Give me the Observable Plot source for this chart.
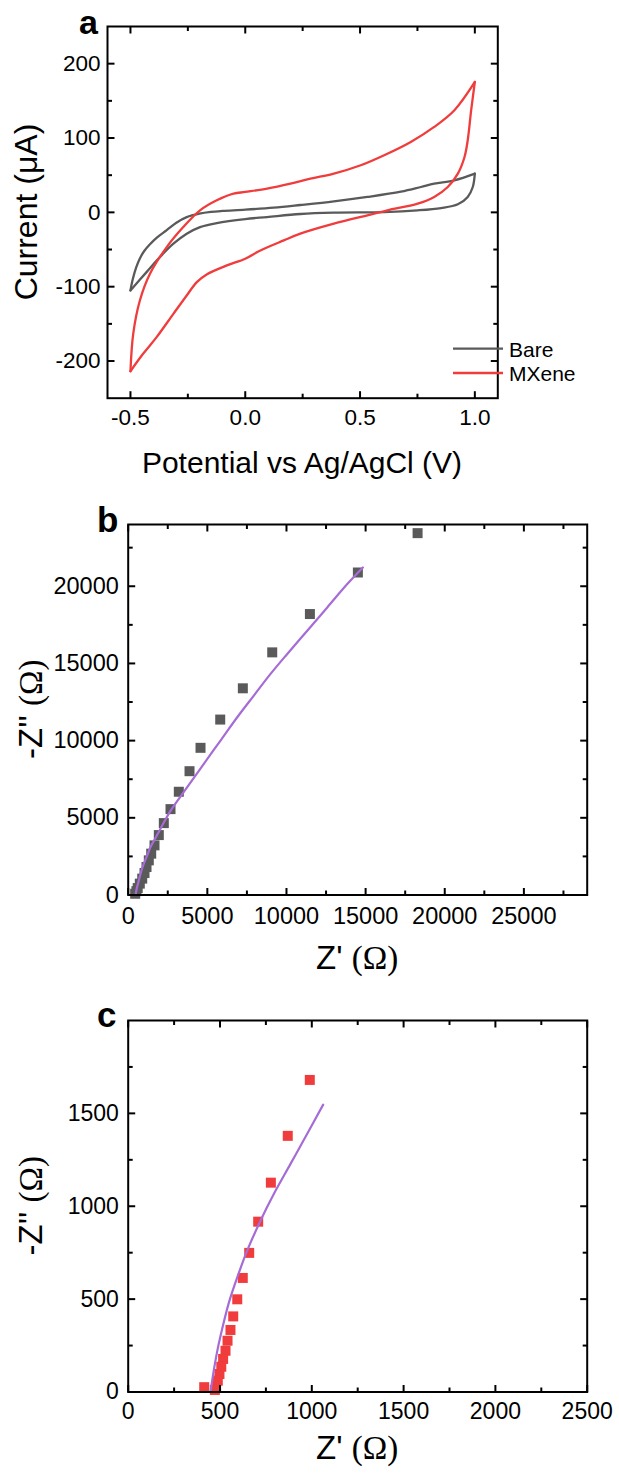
<!DOCTYPE html>
<html><head><meta charset="utf-8">
<script src="https://cdn.jsdelivr.net/npm/d3@7"></script>
<script src="https://cdn.jsdelivr.net/npm/@observablehq/plot@0.6"></script>
<style>
body{margin:0;background:#fff;}
#wrap{width:619px;position:relative;}
#wrap svg{display:block;}
</style></head><body><div id="wrap"></div>
<script>
// ---------- Panel a: cyclic voltammetry ----------
const bareFwdV = [-0.5,-0.49,-0.475,-0.459,-0.44,-0.415,-0.385,-0.342,-0.30,-0.255,-0.2,-0.15,-0.1,0,0.124,0.240,0.386,0.532,0.678,0.765,0.823,0.911,1.0];
const bareFwdI = [-105,-90,-74,-62,-52,-43,-34,-24,-14,-6.5,-1.8,0.6,1.9,3.6,6.3,9.9,14.8,20.7,27.8,34.1,38.6,43.1,52.1];
const bareRevV = [1.0,0.991,0.969,0.926,0.853,0.751,0.605,0.386,0.240,0.095,0,-0.124,-0.197,-0.255,-0.313,-0.372,-0.430,-0.5];
const bareRevI = [52.1,34.1,20.7,10.8,5.8,2.7,0.4,-0.4,-2.2,-6.3,-9.0,-14.4,-19.8,-28.7,-42.2,-60.2,-80.4,-105];
const mxFwdV = [-0.5,-0.488,-0.459,-0.415,-0.342,-0.270,-0.197,-0.124,-0.051,0,0.095,0.197,0.284,0.386,0.503,0.605,0.721,0.823,0.911,1.0];
const mxFwdI = [-213.7,-163.4,-118.5,-82.6,-46.7,-19.8,2.7,16.2,25.1,27.4,31.9,38.6,45.3,52.1,63.3,76.8,94.7,114.9,137.4,175.5];
const mxRevV = [1.0,0.984,0.969,0.955,0.926,0.882,0.823,0.751,0.619,0.532,0.386,0.240,0.168,0.066,0,-0.080,-0.168,-0.211,-0.255,-0.313,-0.386,-0.445,-0.5];
const mxRevI = [175.5,137.4,97,74.5,52.1,34.1,20.7,11.7,2.7,-4.0,-15.3,-28.7,-37.7,-51.2,-62.4,-71.4,-83.5,-93.8,-111.8,-136.5,-167.9,-190.3,-213.7];
const seriesNames = ["Bare", "MXene"];
const aXTicks = [-0.5, 0, 0.5, 1.0];
const aXMinor = [-0.25, 0.25, 0.75];
const aYTicks = [-200, -100, 0, 100, 200];
const aYMinor = [-150, -50, 50, 150];

// ---------- Panel b: Nyquist, Bare ----------
const bZre = [18284,14511,11480,9100,7243,5814,4569,3874,3198,2673,2250,1934,1662,1453,1302,1157,1030,885,733,600,520,440];
const bZim = [23440,20891,18200,15717,13389,11364,9534,8020,6688,5563,4657,3881,3215,2678,2244,1811,1423,1061,737,450,250,80];
const bFitRe = [461,540,672,820,988,1200,1409,1700,2041,2673,3729,4778,5833,6889,7938,8993,10049,11313,12577,13841,14827];
const bFitIm = [0,420,951,1520,2030,2571,3105,3650,4295,5450,6985,8499,10006,11513,12917,14320,15614,17121,18628,20142,21216];
const bXTicks = [0,5000,10000,15000,20000,25000];
const bXMinor = [2500,7500,12500,17500,22500,27500];
const bYTicks = [0,5000,10000,15000,20000];
const bYMinor = [2500,7500,12500,17500,22500];

// ---------- Panel c: Nyquist, MXene ----------
const cZre = [989,869,777,708,659,624,594,572,557,541,530,517,507,497,488,479,472,414];
const cZim = [1680,1379,1127,917,749,614,499,407,334,276,222,178,136,97,61,32,11,26];
const cFitRe = [448,466,485,512,548,594,648,721,793,884,975,1062];
const cFitIm = [0,115,220,340,480,617,761,923,1066,1228,1390,1547];
const cXTicks = [0,500,1000,1500,2000,2500];
const cXMinor = [250,750,1250,1750,2250];
const cYTicks = [0,500,1000,1500];
const cYMinor = [250,750,1250,1750];

const SANS = "Liberation Sans, Arial, sans-serif";
const SERIF = "Liberation Serif, Times New Roman, serif";
const GRAY = "#5a5a5a", RED = "#f03c3c", PURPLE = "#a66cd6";

function zip(xs, ys, extra) { return xs.map((x, i) => ({x, y: ys[i], ...extra})); }

// Inward tick segments on all four sides, as line marks through the plot's scales.
// Pixel lengths are converted to data units from the domain / inner size.
function tickLines({xTicks, xMinor, yTicks, yMinor}, xDom, yDom, iw, ih) {
  const ux = (xDom[1] - xDom[0]) / iw, uy = (yDom[1] - yDom[0]) / ih;
  const segs = [];
  let id = 0;
  const addX = (vals, L) => vals.forEach(v => {
    segs.push({x: v, y: yDom[0], id}, {x: v, y: yDom[0] + L * uy, id}); id++;
    segs.push({x: v, y: yDom[1], id}, {x: v, y: yDom[1] - L * uy, id}); id++;
  });
  const addY = (vals, L) => vals.forEach(v => {
    segs.push({x: xDom[0], y: v, id}, {x: xDom[0] + L * ux, y: v, id}); id++;
    segs.push({x: xDom[1], y: v, id}, {x: xDom[1] - L * ux, y: v, id}); id++;
  });
  addX(xTicks, 7); addX(xMinor, 4.5);
  addY(yTicks, 7); addY(yMinor, 4.5);
  return Plot.line(segs, {x: "x", y: "y", z: "id", stroke: "black", strokeWidth: 2, strokeLinecap: "butt"});
}

function frameAxes({xTicks, yTicks, xFmt, yFmt, fs, xGap, yGap}) {
  return [
    Plot.axisX(xTicks, {anchor: "bottom", tickSize: 0, tickPadding: xGap, tickFormat: xFmt, fontSize: fs, label: null, fill: "black"}),
    Plot.axisY(yTicks, {anchor: "left", tickSize: 0, tickPadding: yGap, tickFormat: yFmt, fontSize: fs, label: null, fill: "black"}),
    Plot.frame({stroke: "black", strokeWidth: 2})
  ];
}

const wrap = document.getElementById("wrap");

// ---- Panel a ----
const cvData = [
  ...zip(bareFwdV, bareFwdI, {s: seriesNames[0], b: "Bare-f"}),
  ...zip(bareRevV, bareRevI, {s: seriesNames[0], b: "Bare-r"}),
  ...zip(mxFwdV, mxFwdI, {s: seriesNames[1], b: "MX-f"}),
  ...zip(mxRevV, mxRevI, {s: seriesNames[1], b: "MX-r"})
];
{
  const W = 619, H = 500, ml = 107, mr = 121.7, mt = 26, mb = 102.3;
  const xDom = [-0.6, 1.1], yDom = [-250, 250];
  const svgA = Plot.plot({
    width: W, height: H,
    marginLeft: ml, marginRight: mr, marginTop: mt, marginBottom: mb,
    style: {fontFamily: SANS, color: "black", background: "white", overflow: "visible"},
    x: {domain: xDom},
    y: {domain: yDom},
    color: {domain: seriesNames, range: [GRAY, RED]},
    marks: [
      Plot.line(cvData, {x: "x", y: "y", z: "b", stroke: "s", strokeWidth: 2.3, curve: "catmull-rom"}),
      tickLines({xTicks: aXTicks, xMinor: aXMinor, yTicks: aYTicks, yMinor: aYMinor}, xDom, yDom, W - ml - mr, H - mt - mb),
      ...frameAxes({xTicks: aXTicks, yTicks: aYTicks,
        xFmt: d => d.toFixed(1), yFmt: d => String(d), fs: 22.5, xGap: 10.5, yGap: 7})
    ]
  });
  wrap.appendChild(svgA);
  const s = d3.select(svgA);
  s.append("text").attr("x", 79).attr("y", 34).attr("text-anchor", "start").attr("font-size", 34).attr("font-weight", "bold").attr("font-family", SANS).text("a");
  s.append("text").attr("x", 302).attr("y", 473).attr("text-anchor", "middle").attr("font-size", 30).attr("font-family", SANS).text("Potential vs Ag/AgCl (V)");
  s.append("text").attr("transform", "translate(37,212) rotate(-90)").attr("text-anchor", "middle").attr("font-size", 32).attr("font-family", SANS).text("Current (\u03BCA)");
  const lg = s.append("g");
  [[GRAY, 348.6, 357], [RED, 373, 381]].forEach(([c, ly, ty], i) => {
    lg.append("line").attr("x1", 453).attr("x2", 503).attr("y1", ly).attr("y2", ly).attr("stroke", c).attr("stroke-width", 2.3);
    lg.append("text").attr("x", 509).attr("y", ty).attr("text-anchor", "start").attr("font-size", 21).attr("font-family", SANS).text(seriesNames[i]);
  });
}

// ---- Panel b & c helper ----
function nyquist({re, im, fitRe, fitIm, color, xDom, yDom, ticks, h, mt, mb, fs, xGap, yGap, letter, letterY}) {
  const W = 619, ml = 127.7, mr = 32.3;
  const svg = Plot.plot({
    width: W, height: h,
    marginLeft: ml, marginRight: mr, marginTop: mt, marginBottom: mb,
    style: {fontFamily: SANS, color: "black", background: "white", overflow: "visible"},
    x: {domain: xDom},
    y: {domain: yDom},
    marks: [
      Plot.dot(zip(re, im), {x: "x", y: "y", symbol: "square", r: 5.64, fill: color, stroke: "none"}),
      Plot.line(zip(fitRe, fitIm), {x: "x", y: "y", stroke: PURPLE, strokeWidth: 2.2, curve: "catmull-rom"}),
      tickLines(ticks, xDom, yDom, W - ml - mr, h - mt - mb),
      ...frameAxes({...ticks, xFmt: d => String(d), yFmt: d => String(d), fs, xGap, yGap})
    ]
  });
  wrap.appendChild(svg);
  const s = d3.select(svg);
  s.append("text").attr("x", 97).attr("y", letterY).attr("text-anchor", "start").attr("font-size", 35).attr("font-weight", "bold").attr("font-family", SANS).text(letter);
  const cx = ml + (W - ml - mr) / 2;
  const xt = s.append("text").attr("x", cx).attr("y", 469.3).attr("text-anchor", "middle").attr("font-size", 33);
  xt.append("tspan").attr("font-family", SANS).text("Z' ");
  xt.append("tspan").attr("font-family", SERIF).text("(\u03A9)");
  const cy = mt + (h - mt - mb) / 2;
  const yt = s.append("text").attr("transform", `translate(42,${cy}) rotate(-90)`).attr("text-anchor", "middle").attr("font-size", 33);
  yt.append("tspan").attr("font-family", SANS).text("-Z'' ");
  yt.append("tspan").attr("font-family", SERIF).text("(\u03A9)");
}

nyquist({re: bZre, im: bZim, fitRe: bFitRe, fitIm: bFitIm, color: GRAY,
  xDom: [0, 29000], yDom: [0, 24000],
  ticks: {xTicks: bXTicks, xMinor: bXMinor, yTicks: bYTicks, yMinor: bYMinor},
  h: 490, mt: 24, mb: 95.5, fs: 23.5, xGap: 12.5, yGap: 9.4, letter: "b", letterY: 31.7});

nyquist({re: cZre, im: cZim, fitRe: cFitRe, fitIm: cFitIm, color: RED,
  xDom: [0, 2500], yDom: [0, 2000],
  ticks: {xTicks: cXTicks, xMinor: cXMinor, yTicks: cYTicks, yMinor: cYMinor},
  h: 484, mt: 30, mb: 82.5, fs: 23, xGap: 10.3, yGap: 9.4, letter: "c", letterY: 36.7});
</script>
</body></html>
